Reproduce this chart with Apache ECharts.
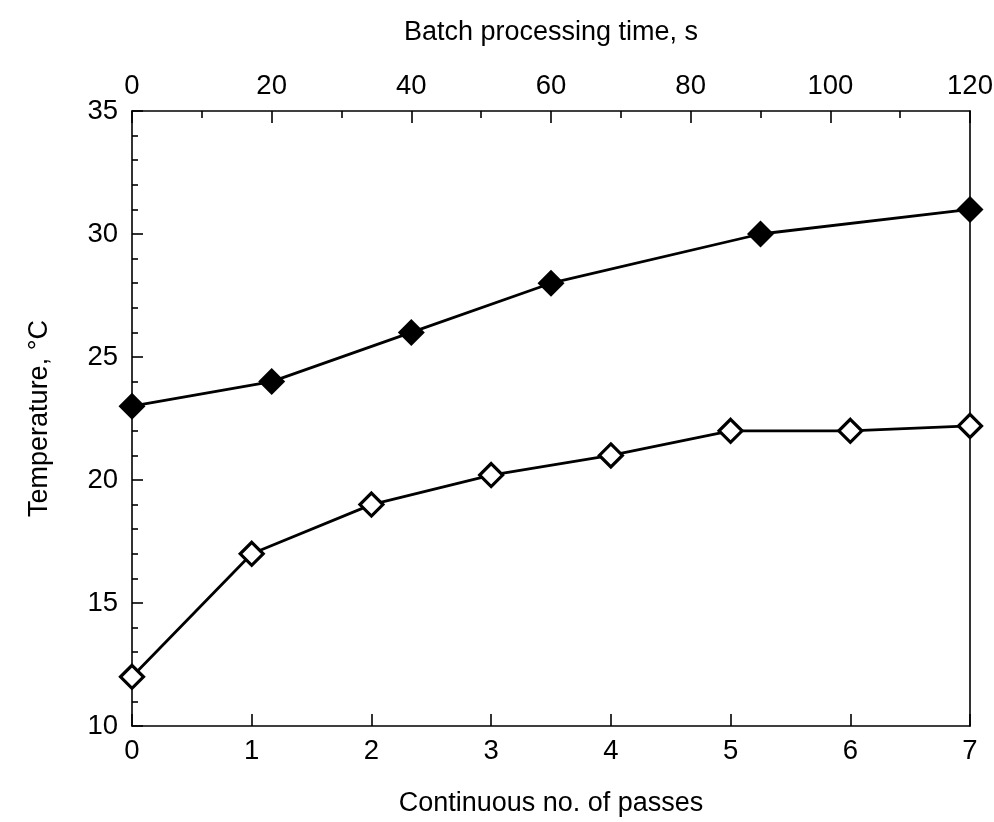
<!DOCTYPE html>
<html>
<head>
<meta charset="utf-8">
<script src="https://cdn.jsdelivr.net/npm/echarts@6/dist/echarts.min.js"></script>
<style>html,body{margin:0;padding:0;background:#fff}#c{width:994px;height:822px}</style>
</head>
<body>
<div id="c"></div>
<script>
// Continuous process: passes vs temperature (open diamonds)
const passes = [0, 1, 2, 3, 4, 5, 6, 7];
const passTemps = [12, 17, 19, 20.2, 21, 22, 22, 22.2];
// Batch process: time vs temperature (filled diamonds)
const batchTimes = [0, 20, 40, 60, 90, 120];
const batchTemps = [23, 24, 26, 28, 30, 31];

const FONT = "'Liberation Sans', Arial, Helvetica, sans-serif";
const lineStyle = { color: '#000', width: 1.6 };
const labelStyle = { color: '#000', fontSize: 27.5, fontFamily: FONT };
const nameStyle = { color: '#000', fontSize: 27, fontFamily: FONT };

const chart = echarts.init(document.getElementById('c'), null, { renderer: 'canvas' });
chart.setOption({
  backgroundColor: '#fff',
  animation: false,
  grid: { left: 132, right: 24, top: 111, bottom: 96, containLabel: false, outerBoundsMode: 'none' },
  xAxis: [
    {
      type: 'value', position: 'bottom', min: 0, max: 7, interval: 1,
      name: 'Continuous no. of passes', nameLocation: 'middle', nameGap: 64,
      nameTextStyle: nameStyle,
      axisLine: { show: true, onZero: false, lineStyle },
      axisTick: { show: true, inside: true, length: 12, lineStyle },
      minorTick: { show: false },
      axisLabel: Object.assign({ margin: 11 }, labelStyle),
      splitLine: { show: false }
    },
    {
      type: 'value', position: 'top', min: 0, max: 120, interval: 20,
      name: 'Batch processing time, s', nameLocation: 'middle', nameGap: 65,
      nameTextStyle: nameStyle,
      axisLine: { show: true, onZero: false, lineStyle },
      axisTick: { show: true, inside: true, length: 12, lineStyle },
      minorTick: { show: true, splitNumber: 2, length: 7, lineStyle },
      axisLabel: Object.assign({ margin: 11 }, labelStyle),
      splitLine: { show: false }
    }
  ],
  yAxis: [
    {
      type: 'value', position: 'left', min: 10, max: 35, interval: 5,
      name: 'Temperature, °C', nameLocation: 'middle', nameGap: 79, nameRotate: 90,
      nameTextStyle: nameStyle,
      axisLine: { show: true, onZero: false, lineStyle },
      axisTick: { show: true, inside: true, length: 11, lineStyle },
      minorTick: { show: true, splitNumber: 5, length: 6, lineStyle },
      axisLabel: Object.assign({ margin: 14 }, labelStyle),
      splitLine: { show: false }
    },
    {
      type: 'value', position: 'right', min: 10, max: 35, interval: 5,
      axisLine: { show: true, onZero: false, lineStyle },
      axisTick: { show: false },
      axisLabel: { show: false },
      splitLine: { show: false }
    }
  ],
  series: [
    {
      type: 'line', xAxisIndex: 0, yAxisIndex: 0,
      data: passes.map((p, i) => [p, passTemps[i]]),
      symbol: 'diamond', symbolSize: 23, clip: false,
      lineStyle: { color: '#000', width: 2.8 },
      itemStyle: { color: '#fff', borderColor: '#000', borderWidth: 3.2 },
      z: 3
    },
    {
      type: 'line', xAxisIndex: 1, yAxisIndex: 0,
      data: batchTimes.map((t, i) => [t, batchTemps[i]]),
      symbol: 'diamond', symbolSize: 27, clip: false,
      lineStyle: { color: '#000', width: 2.8 },
      itemStyle: { color: '#000', borderColor: '#000', borderWidth: 0 },
      z: 3
    }
  ]
});
</script>
</body>
</html>
